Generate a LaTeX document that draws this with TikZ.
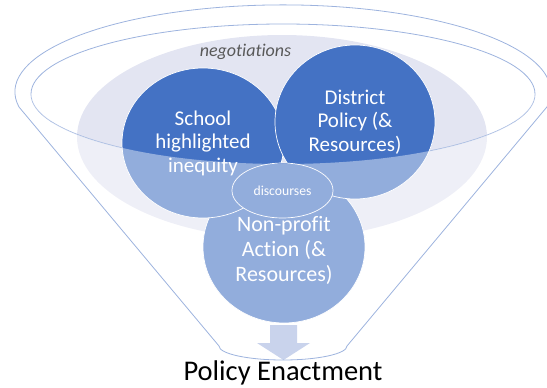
\documentclass[tikz,border=0pt]{standalone}
\usepackage{fontspec}
\setmainfont{Carlito}[Ligatures=NoCommon]
\usetikzlibrary{shapes.geometric}
\definecolor{diskblue}{HTML}{4472C4}
\definecolor{negfill}{HTML}{E3E5F2}
\definecolor{rimline}{HTML}{9DB3DE}
\definecolor{arrowfill}{HTML}{C9D3EC}
\definecolor{labelgray}{HTML}{595959}
\begin{document}
\begin{tikzpicture}[x=1pt,y=-1pt,
  rim/.style={draw=rimline, line width=0.8pt, line join=round},
  actor/.style={ellipse, draw=white, line width=0.7pt, fill=diskblue, inner sep=0pt},
  actortext/.style={text=white, align=center, inner sep=0pt},
  bigtext/.style={font=\fontsize{21}{23.5}\selectfont},
]
\useasboundingbox (0,0) rectangle (547,388);

% funnel geometry
\coordinate (funL) at (19,107);
\coordinate (funR) at (547,107);
\coordinate (botR) at (347,346);
\coordinate (botL) at (219,346);
\coordinate (rimL) at (31,94);

% shared space of negotiation
\fill[negfill] (282,137) ellipse [x radius=205, y radius=102];
\node[font=\fontsize{18}{21}\selectfont\itshape, text=labelgray, anchor=base] (neg) at (245.5,56.5) {negotiations};

% inner rim of the funnel
\draw[rim] (283,94) ellipse [x radius=252, y radius=70];

% the three actors
\node[actor, minimum width=162pt, minimum height=152pt] (npo) at (284,247) {};
\node[actor, minimum width=162pt, minimum height=150pt] (school) at (203,143) {};
\node[actor, minimum width=160pt, minimum height=154pt] (district) at (355,122) {};
\node[actortext, bigtext] (schooltxt) at (203,143) {School\\highlighted\\inequity};
\node[actortext, bigtext] (districttxt) at (355,122) {District\\Policy (\&\\Resources)};
\node[actortext, font=\fontsize{22}{25}\selectfont] (npotxt) at (284,250) {Non-profit\\Action (\&\\Resources)};

% shared discourses
\node[actor, minimum width=101pt, minimum height=55pt, text=white, font=\fontsize{13.7}{16}\selectfont] (disc) at (282.5,190.5) {discourses};

% front face of the funnel
\fill[white, fill opacity=0.42] (rimL) arc[start angle=180, end angle=0, x radius=252, y radius=70] -- (botR) arc[start angle=0, end angle=180, x radius=64, y radius=14] -- cycle;

% outflow arrow
\fill[arrowfill] (270,325) -- (297,325) -- (297,343) -- (310,343) -- (283.5,360) -- (257,343) -- (270,343) -- cycle;

% outer outline of the funnel
\draw[rim] (funL) arc[start angle=170, end angle=370, x radius=268, y radius=87] -- (botR) arc[start angle=0, end angle=180, x radius=64, y radius=14] -- cycle;

\node[anchor=base, font=\fontsize{28.5}{34}\selectfont] (enact) at (283,380) {Policy Enactment};
\end{tikzpicture}
\end{document}
